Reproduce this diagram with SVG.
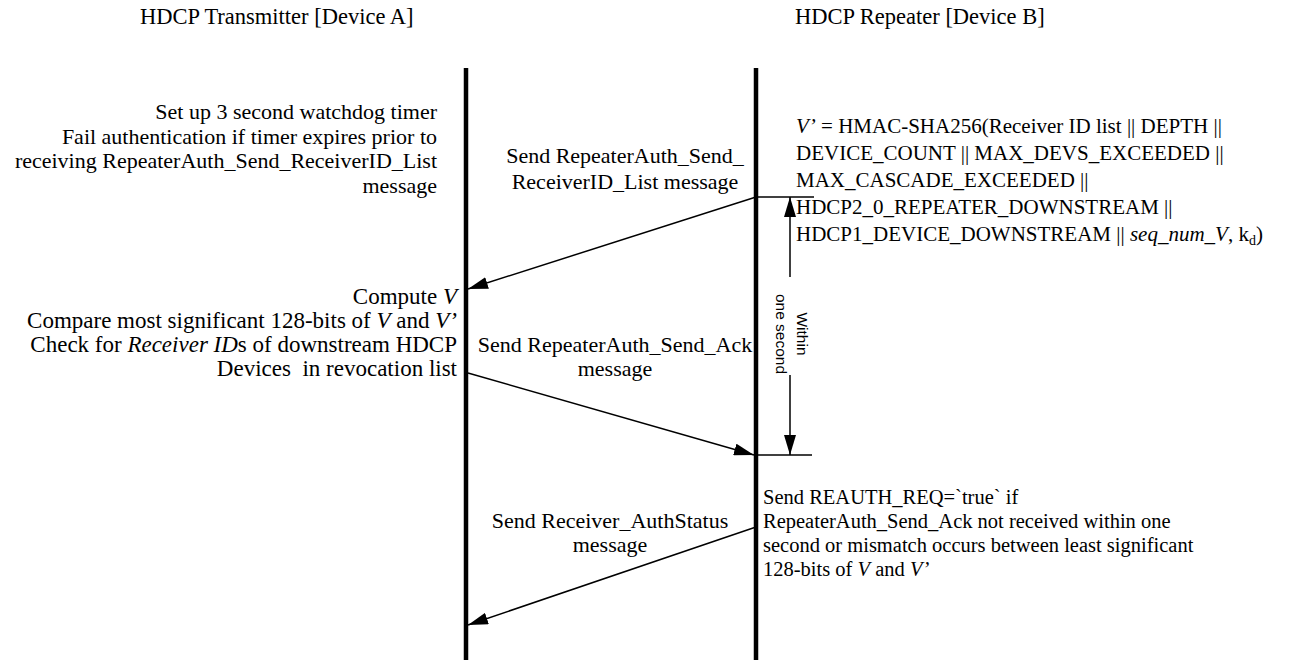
<svg xmlns="http://www.w3.org/2000/svg" width="1310" height="660" viewBox="0 0 1310 660">
<style>
text{font-family:"Liberation Serif","Times New Roman",serif;font-size:22px;fill:#000}
.r{text-anchor:end}
.m{text-anchor:middle}
.i{font-style:italic}
.hd{font-size:22.5px}
.vb text{font-size:21px}
.cb text{font-size:23px}
.rb text{font-size:20.5px}
.sans{font-family:"Liberation Sans",Arial,sans-serif;font-size:15.5px;text-anchor:middle}
.life{stroke:#000;stroke-width:4.5;fill:none}
.msg{stroke:#000;stroke-width:1.5;fill:none}
</style>
<defs>
<marker id="ah" viewBox="0 0 20 12" refX="20" refY="6" markerWidth="20" markerHeight="12" markerUnits="userSpaceOnUse" orient="auto">
<path d="M0,0 L20,6 L0,12 Z" fill="#000"/>
</marker>
</defs>
<rect width="1310" height="660" fill="#fff"/>
<g id="deviceA">
<text class="hd" x="140" y="24">HDCP Transmitter [Device A]</text>
<line class="life" x1="466" y1="68" x2="466" y2="660"/>
</g>
<g id="deviceB">
<text class="hd" x="795" y="24">HDCP Repeater [Device B]</text>
<line class="life" x1="756" y1="68" x2="756" y2="660"/>
</g>
<g id="note-watchdog">
<text class="r" x="437" y="119">Set up 3 second watchdog timer</text>
<text class="r" x="437" y="144">Fail authentication if timer expires prior to</text>
<text class="r" x="437" y="168">receiving RepeaterAuth_Send_ReceiverID_List</text>
<text class="r" x="437" y="193">message</text>
</g>
<g id="note-vprime" class="vb">
<text x="796" y="133"><tspan class="i">V’</tspan> = HMAC-SHA256(Receiver ID list || DEPTH ||</text>
<text x="796" y="160">DEVICE_COUNT || MAX_DEVS_EXCEEDED ||</text>
<text x="796" y="187">MAX_CASCADE_EXCEEDED ||</text>
<text x="796" y="214">HDCP2_0_REPEATER_DOWNSTREAM ||</text>
<text x="796" y="241">HDCP1_DEVICE_DOWNSTREAM || <tspan class="i">seq_num_V</tspan>, k<tspan dy="4" font-size="14">d</tspan><tspan dy="-4">)</tspan></text>
</g>
<g id="note-compute" class="cb">
<text class="r" x="457" y="304">Compute <tspan class="i">V</tspan></text>
<text class="r" x="457" y="328">Compare most significant 128-bits of <tspan class="i">V</tspan> and <tspan class="i">V’</tspan></text>
<text class="r" x="457" y="352">Check for <tspan class="i">Receiver ID</tspan>s of downstream HDCP</text>
<text class="r" x="457" y="376" xml:space="preserve">Devices  in revocation list</text>
</g>
<g id="note-reauth" class="rb">
<text x="763" y="504">Send REAUTH_REQ=`true` if</text>
<text x="763" y="528">RepeaterAuth_Send_Ack not received within one</text>
<text x="763" y="552">second or mismatch occurs between least significant</text>
<text x="763" y="576">128-bits of <tspan class="i">V</tspan> and <tspan class="i">V’</tspan></text>
</g>
<g id="timer-label">
<text class="sans" transform="translate(797,334) rotate(90)">Within</text>
<text class="sans" transform="translate(776,334) rotate(90)">one second</text>
</g>
<g id="connectors">
<line class="msg" x1="756" y1="197" x2="468" y2="289" marker-end="url(#ah)"/>
<text class="m" x="625" y="163">Send RepeaterAuth_Send_</text>
<text class="m" x="625" y="189">ReceiverID_List message</text>
<line class="msg" x1="468" y1="373" x2="754" y2="455" marker-end="url(#ah)"/>
<text class="m" x="615" y="352">Send RepeaterAuth_Send_Ack</text>
<text class="m" x="615" y="376">message</text>
<line class="msg" x1="756" y1="527" x2="468" y2="625" marker-end="url(#ah)"/>
<text class="m" x="610" y="528">Send Receiver_AuthStatus</text>
<text class="m" x="610" y="552">message</text>
<line class="msg" x1="756" y1="197" x2="814" y2="197"/>
<line class="msg" x1="756" y1="455" x2="812" y2="455"/>
<line class="msg" x1="790" y1="277" x2="790" y2="197" marker-end="url(#ah)"/>
<line class="msg" x1="790" y1="375" x2="790" y2="455" marker-end="url(#ah)"/>
</g>
</svg>
